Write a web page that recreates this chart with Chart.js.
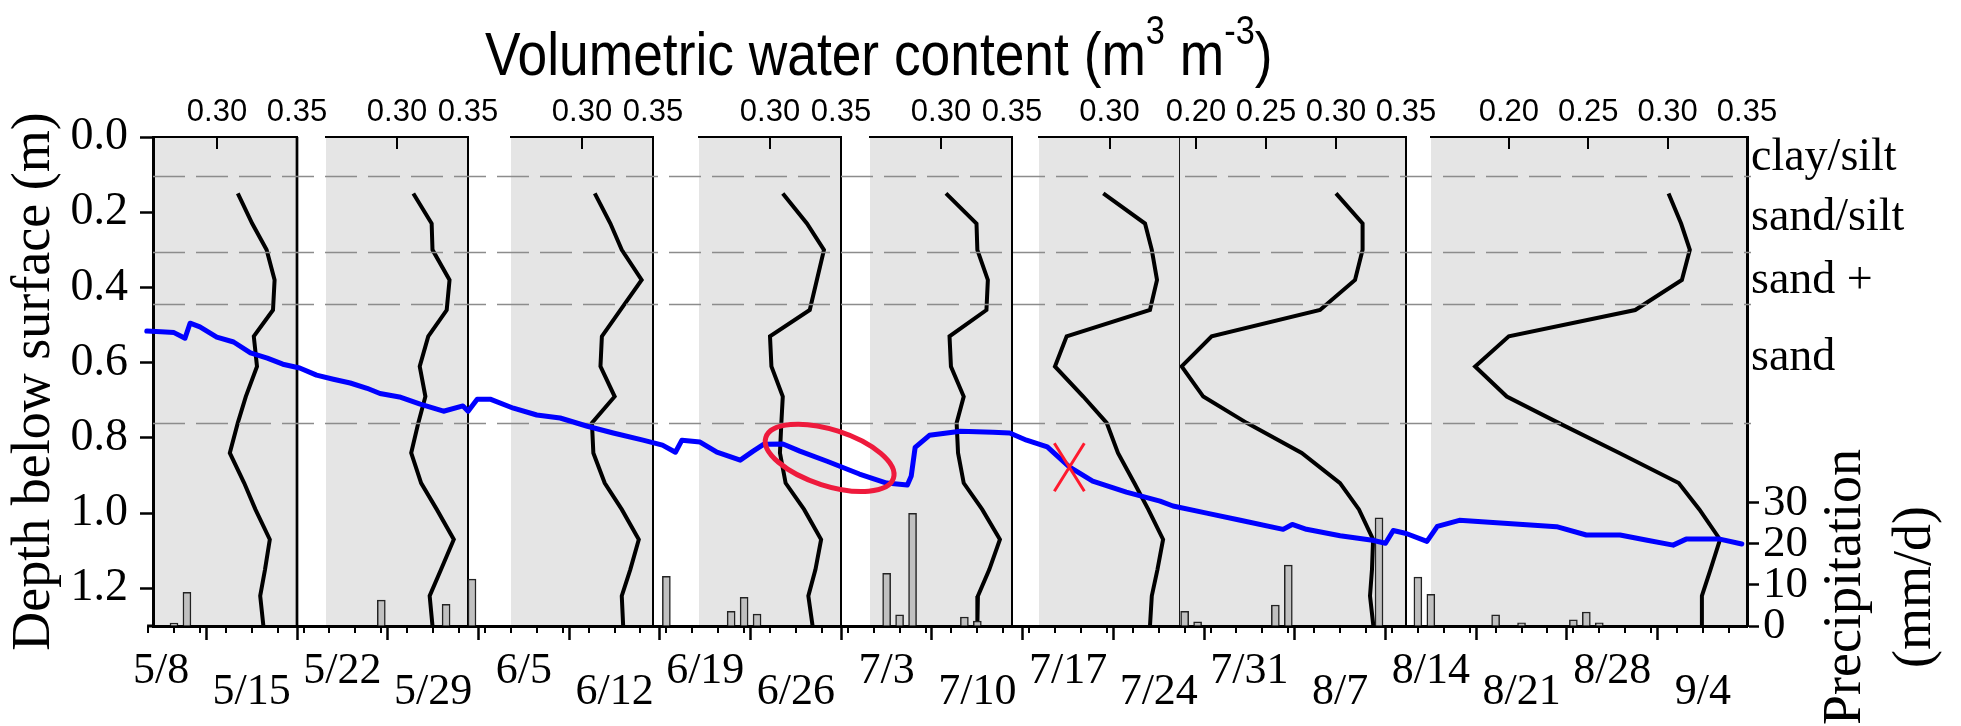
<!DOCTYPE html>
<html>
<head>
<meta charset="utf-8">
<title>Volumetric water content profiles</title>
<script src="https://cdn.jsdelivr.net/npm/chart.js@4.4.1/dist/chart.umd.min.js"></script>
<style>
    html, body { margin: 0; padding: 0; background: #fff; }
    #stage { position: relative; width: 1961px; height: 726px; overflow: hidden; background: #fff; }
    #stage canvas { position: absolute; left: 0; top: 0; }
</style>
</head>
<body>
<div id="stage"></div>
<script>
/**
 * Soil moisture profiles, water table depth and daily precipitation
 */

// ---- data ----

// sensor depths (m) shared by all profiles
const depthLevels = [0.15, 0.23, 0.30, 0.38, 0.46, 0.53, 0.61, 0.69, 0.76, 0.84, 0.92, 0.99, 1.07, 1.15, 1.22, 1.30];

// volumetric water content profiles (m3 m-3), one per panel, left to right
const vwc1 = [0.313, 0.322, 0.331, 0.336, 0.335, 0.323, 0.325, 0.318, 0.313, 0.308, 0.317, 0.324, 0.333, 0.330, 0.327, 0.329];
const vwc2 = [0.3115, 0.3244, 0.325, 0.337, 0.335, 0.322, 0.316, 0.320, 0.315, 0.310, 0.317, 0.328, 0.340, 0.331, 0.323, 0.325];
const vwc3 = [0.309, 0.320, 0.328, 0.342, 0.327, 0.314, 0.313, 0.323, 0.307, 0.308, 0.316, 0.328, 0.340, 0.334, 0.328, 0.329];
const vwc4 = [0.309, 0.326, 0.338, 0.333, 0.328, 0.300, 0.301, 0.309, 0.308, 0.307, 0.311, 0.324, 0.336, 0.332, 0.327, 0.330];
const vwc5 = [0.3035, 0.325, 0.3256, 0.333, 0.332, 0.306, 0.307, 0.316, 0.311, 0.312, 0.316, 0.329, 0.3415, 0.334, 0.326, 0.3256];
const vwc6 = [0.2956, 0.3252, 0.330, 0.3337, 0.3287, 0.2696, 0.2613, 0.2814, 0.298, 0.306, 0.3176, 0.3275, 0.338, 0.334, 0.330, 0.3287];
const vwc7 = [0.300, 0.319, 0.319, 0.3136, 0.2886, 0.2112, 0.1898, 0.2052, 0.2362, 0.2755, 0.3029, 0.3164, 0.3265, 0.3257, 0.3243, 0.3267];
const vwc8 = [0.3006, 0.3085, 0.3140, 0.3090, 0.2796, 0.200, 0.1788, 0.1987, 0.2313, 0.2696, 0.307, 0.320, 0.333, 0.327, 0.3216, 0.3216];
const profiles = [vwc1, vwc2, vwc3, vwc4, vwc5, vwc6, vwc7, vwc8];

// VWC axis range and tick labels of each panel
const vwcMin = [0.26, 0.25, 0.25, 0.25, 0.25, 0.25, 0.1886, 0.151];
const vwcMax = [0.35, 0.35, 0.35, 0.35, 0.35, 0.35, 0.35, 0.35];
const vwcTicks = [
    [0.30, 0.35], [0.30, 0.35], [0.30, 0.35], [0.30, 0.35], [0.30, 0.35],
    [0.30],
    [0.20, 0.25, 0.30, 0.35],
    [0.20, 0.25, 0.30, 0.35]
];

// water table depth (m) against days since 5/8
const wtDays = [-1.1, 0, 1.0, 1.85, 2.24, 3.0, 4.3, 5.6, 6.9, 8.2, 9.4, 10.7, 12.0, 13.3, 14.6, 15.9,
    16.9, 18.4, 20.0, 21.8, 23.3, 23.7, 24.4, 25.4, 27.2, 29.0, 30.8, 32.9, 34.9, 37.2, 38.7, 39.7,
    40.2, 41.6, 42.9, 44.7, 45.7, 46.5, 48.0, 49.3, 51.4, 53.9, 56.0, 57.6, 57.9, 58.2, 59.3, 61.7,
    64.2, 65.5, 66.8, 68.4, 70.1, 71.9, 74.5, 77.1, 78.1, 80.7, 83.3, 86.6, 87.3, 88.4, 91.0, 93.5,
    94.5, 95.1, 96.1, 97.7, 98.5, 100.2, 102.5, 105.1, 107.7, 110.0, 112.6, 114.7, 116.7, 117.7, 120.3, 122.0];
const wtDepth = [0.516, 0.518, 0.520, 0.535, 0.495, 0.505, 0.532, 0.545, 0.574, 0.588, 0.604, 0.614, 0.633, 0.644, 0.654, 0.668,
    0.682, 0.691, 0.710, 0.729, 0.715, 0.729, 0.697, 0.697, 0.721, 0.739, 0.747, 0.769, 0.787, 0.806, 0.819, 0.838,
    0.806, 0.811, 0.838, 0.859, 0.835, 0.817, 0.816, 0.835, 0.862, 0.896, 0.920, 0.925, 0.901, 0.825, 0.793, 0.782,
    0.785, 0.787, 0.806, 0.824, 0.877, 0.915, 0.944, 0.968, 0.981, 1.000, 1.019, 1.043, 1.030, 1.043, 1.060, 1.072,
    1.080, 1.046, 1.054, 1.075, 1.035, 1.019, 1.024, 1.030, 1.036, 1.058, 1.058, 1.072, 1.085, 1.069, 1.069, 1.082];

// daily precipitation (mm/d) against days since 5/8
const rainDays = [1, 2, 17, 22, 24, 39, 44, 45, 46, 56, 57, 58, 62, 63, 79, 80, 86, 87, 94, 97, 98, 103, 105, 109, 110, 111];
const rainMm = [0.7, 8.2, 6.3, 5.3, 11.4, 12.1, 3.6, 7.0, 2.9, 12.8, 2.7, 27.4, 2.2, 1.2, 3.6, 1.0, 5.1, 14.8, 26.3, 11.9, 7.7, 2.7, 0.8, 1.5, 3.4, 0.8];

// axis ticks
const dateTickDays = [0, 7, 14, 21, 28, 35, 42, 49, 56, 63, 70, 77, 84, 91, 98, 105, 112, 119];
const dateLabels = ['5/8', '5/15', '5/22', '5/29', '6/5', '6/12', '6/19', '6/26', '7/3', '7/10',
    '7/17', '7/24', '7/31', '8/7', '8/14', '8/21', '8/28', '9/4'];
const depthTicks = [0, 0.2, 0.4, 0.6, 0.8, 1.0, 1.2];
const rainTicks = [0, 10, 20, 30];

// soil layers
const layerBounds = [0.105, 0.305, 0.445, 0.76];
const layerNames = ['clay/silt', 'sand/silt', 'sand +', 'sand'];
const layerNameDepth = [0.088, 0.247, 0.415, 0.62];

// annotations (day, depth)
const ellipseMark = { day: 51.6, depth: 0.853 };
const crossMark = { day: 70.1, depth: 0.878 };

// ---- layout ----
const W = 1961, H = 726;
const plotLeft = 153, plotRight = 1747, plotTop = 137, plotBottom = 626;
const panelLeft = [153, 326, 511, 699, 870, 1039, 1180, 1431];
const panelRight = [297, 468, 653, 841, 1012, 1180, 1406, 1747];
const panelBorder = [2.7, 2, 2, 2, 2, 1.8, 2, 0];

const SERIF = "'Liberation Serif', 'Times New Roman', serif";
const SANS = "'Liberation Sans', Arial, sans-serif";

Chart.defaults.font.family = SERIF;
Chart.defaults.color = '#000';

const stage = document.getElementById('stage');

function addCanvas() {
    const c = document.createElement('canvas');
    c.width = W;
    c.height = H;
    stage.appendChild(c);
    return c.getContext('2d');
}

/**
 * Gray background, inward ticks and right border of a profile panel
 */
const panelDecor = {
    id: 'panelDecor',
    beforeDraw(chart) {
        const a = chart.chartArea;
        const ctx = chart.ctx;
        ctx.save();
        ctx.fillStyle = '#e5e5e5';
        ctx.fillRect(a.left, a.top, a.right - a.left, a.bottom - a.top);
        ctx.restore();
    },
    afterDraw(chart, args, opts) {
        const a = chart.chartArea;
        const ctx = chart.ctx;
        const xs = chart.scales.x;
        ctx.save();
        ctx.strokeStyle = '#000';
        ctx.lineWidth = 2;
        xs.ticks.forEach(t => {
            const px = Math.round(xs.getPixelForValue(t.value));
            ctx.beginPath();
            ctx.moveTo(px, a.top);
            ctx.lineTo(px, a.top + 12);
            ctx.stroke();
        });
        if (opts.borderWidth) {
            ctx.lineWidth = opts.borderWidth;
            ctx.beginPath();
            ctx.moveTo(a.right, a.top);
            ctx.lineTo(a.right, a.bottom);
            ctx.stroke();
        }
        ctx.restore();
    }
};

function initPanelChart(i) {
    const ctx = addCanvas();
    const points = depthLevels.map((d, k) => ({ x: profiles[i][k], y: d }));
    return new Chart(ctx, {
        type: 'line',
        data: {
            datasets: [{
                data: points,
                borderColor: '#000',
                borderWidth: 4,
                pointRadius: 0,
                tension: 0,
                fill: false
            }]
        },
        options: {
            responsive: false,
            animation: false,
            devicePixelRatio: 1,
            layout: {
                padding: { left: panelLeft[i], right: W - panelRight[i], top: 0, bottom: H - plotBottom }
            },
            plugins: {
                legend: { display: false },
                tooltip: { enabled: false },
                panelDecor: { borderWidth: panelBorder[i] }
            },
            scales: {
                x: {
                    type: 'linear',
                    position: 'top',
                    min: vwcMin[i],
                    max: vwcMax[i],
                    afterBuildTicks: s => { s.ticks = vwcTicks[i].map(v => ({ value: v })); },
                    afterFit: s => { s.height = plotTop; },
                    grid: { display: true, drawOnChartArea: false, drawTicks: false },
                    border: { display: true, color: '#000', width: 2 },
                    ticks: {
                        autoSkip: false,
                        maxRotation: 0,
                        minRotation: 0,
                        padding: 6,
                        font: { family: SANS, size: 31 },
                        callback: v => v.toFixed(2)
                    }
                },
                y: { type: 'linear', display: false, reverse: true, min: 0, max: 1.3 }
            }
        },
        plugins: [panelDecor]
    });
}

/**
 * Layer lines, annotations, minor ticks and free text of the main chart
 */
const mainDecor = {
    id: 'mainDecor',
    beforeDatasetsDraw(chart) {
        const a = chart.chartArea;
        const ctx = chart.ctx;
        const ys = chart.scales.y;
        ctx.save();
        ctx.strokeStyle = '#8c8c8c';
        ctx.lineWidth = 1.6;
        ctx.setLineDash([32, 11]);
        layerBounds.forEach(d => {
            const py = Math.round(ys.getPixelForValue(d)) + 0.5;
            ctx.beginPath();
            ctx.moveTo(a.left, py);
            ctx.lineTo(a.right + 4, py);
            ctx.stroke();
        });
        ctx.restore();
    },
    afterDatasetsDraw(chart) {
        const ctx = chart.ctx;
        const xs = chart.scales.x;
        const ys = chart.scales.y;
        ctx.save();
        // ellipse
        ctx.strokeStyle = '#ee1a3c';
        ctx.lineWidth = 5;
        ctx.beginPath();
        ctx.ellipse(xs.getPixelForValue(ellipseMark.day), ys.getPixelForValue(ellipseMark.depth), 67, 28, 0.31, 0, Math.PI * 2);
        ctx.stroke();
        // cross
        const cx = xs.getPixelForValue(crossMark.day);
        const cy = ys.getPixelForValue(crossMark.depth);
        ctx.strokeStyle = '#ff1a2e';
        ctx.lineWidth = 3;
        ctx.beginPath();
        ctx.moveTo(cx - 15, cy - 24);
        ctx.lineTo(cx + 15, cy + 24);
        ctx.moveTo(cx + 15, cy - 24);
        ctx.lineTo(cx - 15, cy + 24);
        ctx.stroke();
        ctx.restore();
    },
    afterDraw(chart) {
        const a = chart.chartArea;
        const ctx = chart.ctx;
        const xs = chart.scales.x;
        const ys = chart.scales.y;
        ctx.save();
        ctx.strokeStyle = '#000';
        ctx.fillStyle = '#000';

        // x axis line runs a little past the depth axis, with minor ticks every two days
        ctx.lineWidth = 3;
        ctx.beginPath();
        ctx.moveTo(xs.getPixelForValue(-1) - 1, a.bottom);
        ctx.lineTo(a.left, a.bottom);
        ctx.stroke();
        ctx.lineWidth = 2;
        for (let d = -1; d <= 122; d += 2) {
            const px = Math.round(xs.getPixelForValue(d));
            ctx.beginPath();
            ctx.moveTo(px, a.bottom);
            ctx.lineTo(px, a.bottom + 7);
            ctx.stroke();
        }

        // soil layer names
        ctx.font = '46px ' + SERIF;
        ctx.textAlign = 'left';
        ctx.textBaseline = 'alphabetic';
        layerNames.forEach((name, k) => {
            ctx.fillText(name, a.right + 4, ys.getPixelForValue(layerNameDepth[k]));
        });

        // precipitation axis title, two lines read bottom to top
        ctx.save();
        ctx.font = '54px ' + SERIF;
        ctx.textAlign = 'center';
        ctx.textBaseline = 'middle';
        ctx.translate(1846, 587);
        ctx.rotate(-Math.PI / 2);
        ctx.fillText('Precipitation', 0, 0);
        ctx.fillText('(mm/d)', 0, 70);
        ctx.restore();

        // top title with superscripts
        ctx.save();
        ctx.textAlign = 'left';
        ctx.textBaseline = 'alphabetic';
        ctx.translate(485, 75);
        ctx.scale(0.86, 1);
        const big = '62px ' + SANS;
        const small = '40px ' + SANS;
        const parts = [
            ['Volumetric water content (m', big, 0],
            ['3', small, -31],
            [' m', big, 0],
            ['-3', small, -31],
            [')', big, 0]
        ];
        let tx = 0;
        parts.forEach(p => {
            ctx.font = p[1];
            ctx.fillText(p[0], tx, p[2]);
            tx += ctx.measureText(p[0]).width;
        });
        ctx.restore();

        ctx.restore();
    }
};

function initMainChart() {
    const ctx = addCanvas();
    return new Chart(ctx, {
        type: 'line',
        data: {
            datasets: [
                {
                    label: 'Water table',
                    data: wtDays.map((d, k) => ({ x: d, y: wtDepth[k] })),
                    borderColor: '#0000ff',
                    borderWidth: 5,
                    borderJoinStyle: 'round',
                    borderCapStyle: 'round',
                    pointRadius: 0,
                    tension: 0,
                    fill: false,
                    clip: false,
                    xAxisID: 'x',
                    yAxisID: 'y'
                },
                {
                    type: 'bar',
                    label: 'Precipitation',
                    data: rainDays.map((d, k) => ({ x: d, y: rainMm[k] })),
                    backgroundColor: '#c0c0c0',
                    borderColor: '#222',
                    borderWidth: 1.5,
                    barThickness: 8,
                    grouped: false,
                    xAxisID: 'x',
                    yAxisID: 'y2'
                }
            ]
        },
        options: {
            responsive: false,
            animation: false,
            devicePixelRatio: 1,
            layout: { padding: { top: plotTop, left: 0, right: 0, bottom: 0 } },
            plugins: {
                legend: { display: false },
                tooltip: { enabled: false }
            },
            scales: {
                x: {
                    type: 'linear',
                    position: 'bottom',
                    min: -0.62,
                    max: 122.4,
                    offset: false,
                    afterBuildTicks: s => { s.ticks = dateTickDays.map(v => ({ value: v })); },
                    afterFit: s => { s.height = H - plotBottom; },
                    grid: {
                        display: true,
                        drawOnChartArea: false,
                        drawTicks: true,
                        tickLength: 14,
                        tickWidth: 2.5,
                        tickColor: '#000'
                    },
                    border: { display: true, color: '#000', width: 3 },
                    ticks: {
                        autoSkip: false,
                        maxRotation: 0,
                        minRotation: 0,
                        padding: 21,
                        font: { family: SERIF, size: 44, lineHeight: 0.48 },
                        callback: (v, i) => (i % 2 === 0 ? dateLabels[i] : ['', dateLabels[i]])
                    }
                },
                y: {
                    type: 'linear',
                    position: 'left',
                    reverse: true,
                    min: 0,
                    max: 1.3,
                    afterBuildTicks: s => { s.ticks = depthTicks.map(v => ({ value: v })); },
                    afterFit: s => { s.width = plotLeft; },
                    grid: {
                        drawOnChartArea: false,
                        tickLength: 13,
                        tickWidth: 2.5,
                        tickColor: '#000'
                    },
                    border: { display: true, color: '#000', width: 3 },
                    ticks: {
                        padding: 12,
                        font: { family: SERIF, size: 46 },
                        callback: v => v.toFixed(1)
                    },
                    title: {
                        display: true,
                        text: 'Depth below surface (m)',
                        font: { family: SERIF, size: 54 },
                        padding: { top: 2, bottom: 0 }
                    }
                },
                y2: {
                    type: 'linear',
                    position: 'right',
                    min: 0,
                    max: 119,
                    afterBuildTicks: s => { s.ticks = rainTicks.map(v => ({ value: v })); },
                    afterFit: s => { s.width = W - plotRight; },
                    grid: {
                        drawOnChartArea: false,
                        tickLength: 12,
                        tickWidth: 2.5,
                        tickColor: '#000'
                    },
                    border: { display: true, color: '#000', width: 3 },
                    ticks: {
                        padding: 4,
                        font: { family: SERIF, size: 45 },
                        callback: v => String(v)
                    }
                }
            }
        },
        plugins: [mainDecor]
    });
}

for (let i = 0; i < profiles.length; i++) {
    initPanelChart(i);
}
initMainChart();
</script>
</body>
</html>
